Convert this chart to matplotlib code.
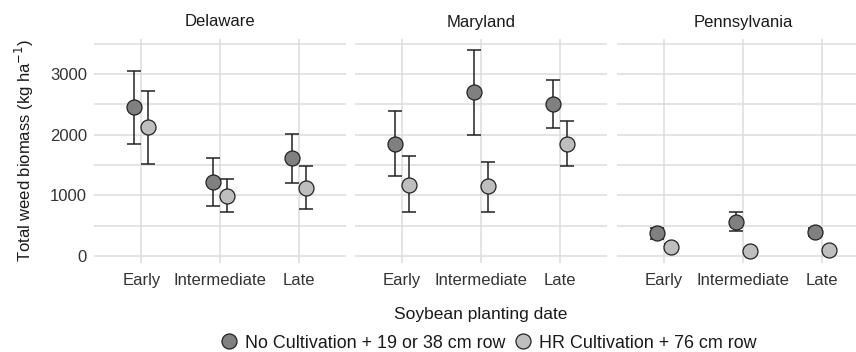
import numpy as np
import matplotlib
matplotlib.use("Agg")
import matplotlib.pyplot as plt
from matplotlib.lines import Line2D

plt.rcParams['font.family'] = ['Liberation Sans', 'DejaVu Sans']

states = ['Delaware', 'Maryland', 'Pennsylvania']
dates = ['Early', 'Intermediate', 'Late']
series = ['No Cultivation + 19 or 38 cm row', 'HR Cultivation + 76 cm row']

# mean, lower, upper per state (rows: Early, Intermediate, Late)
nocult_mean = {'Delaware': [2460, 1225, 1620],
               'Maryland': [1850, 2700, 2505],
               'Pennsylvania': [379, 562, 397]}
nocult_low = {'Delaware': [1846, 819, 1198],
              'Maryland': [1319, 1995, 2115],
              'Pennsylvania': [275, 407, 330]}
nocult_high = {'Delaware': [3049, 1621, 2016],
               'Maryland': [2390, 3396, 2901],
               'Pennsylvania': [470, 725, 460]}
hr_mean = {'Delaware': [2132, 989, 1126],
           'Maryland': [1176, 1154, 1851],
           'Pennsylvania': [152, 77, 99]}
hr_low = {'Delaware': [1522, 731, 775],
          'Maryland': [731, 731, 1478],
          'Pennsylvania': [110, 40, 60]}
hr_high = {'Delaware': [2720, 1264, 1478],
           'Maryland': [1643, 1544, 2225],
           'Pennsylvania': [200, 120, 140]}

colors = ['#808080', '#bebebe']
grid_col = '#dcdcdc'
text_col = '#333333'

W, H = 856, 352
fig = plt.figure(figsize=(W / 100, H / 100), dpi=100)

panel_left = [94, 355, 617]
panel_w = 252
top_px, bot_px = 39, 263

x = np.arange(1, 4)
offset = 0.09

for i, st in enumerate(states):
    ax = fig.add_axes([panel_left[i] / W, 1 - bot_px / H, panel_w / W, (bot_px - top_px) / H])
    ax.set_xlim(0.4, 3.6)
    ax.set_ylim(-115, 3577)
    for s in ax.spines.values():
        s.set_visible(False)
    for yv in np.arange(0, 3501, 500):
        ax.axhline(yv, color=grid_col, lw=1.1, zorder=0)
    for xv in x:
        ax.axvline(xv, color=grid_col, lw=1.1, zorder=0)

    groups = [(nocult_mean, nocult_low, nocult_high, -offset),
              (hr_mean, hr_low, hr_high, offset)]
    for k, (m, lo, hi, off) in enumerate(groups):
        mv = np.array(m[st])
        err = [mv - np.array(lo[st]), np.array(hi[st]) - mv]
        ax.errorbar(x + off, mv, yerr=err, fmt='none', ecolor='#222222',
                    elinewidth=1.1, capsize=5, capthick=1.1, zorder=2)
        ax.plot(x + off, mv, 'o', ms=10.8, mfc=colors[k], mec='#222222',
                mew=0.9, zorder=3)

    ax.set_xticks(x)
    ax.set_xticklabels(dates)
    ax.set_yticks([0, 1000, 2000, 3000])
    ax.tick_params(length=0, labelsize=12, labelcolor=text_col)
    ax.tick_params(axis='x', pad=7)
    ax.tick_params(axis='y', pad=5)
    if i > 0:
        ax.set_yticklabels([])
    ax.set_title(st, fontsize=12, color='#1a1a1a', pad=9)

fig.text(24 / W, 1 - 150 / H, 'Total weed biomass (kg ha$^{-1}$)', rotation=90,
         ha='center', va='center', fontsize=12, color='#1a1a1a')
fig.text(481 / W, 1 - 315 / H, 'Soybean planting date', ha='center', va='center',
         fontsize=12.5, color='#1a1a1a')

handles = [Line2D([], [], ls='none', marker='o', ms=10.8, mfc=c, mec='#222222', mew=0.9)
           for c in colors]
fig.legend(handles, series, loc='center', bbox_to_anchor=(489 / W, 1 - 343 / H),
           ncol=2, frameon=False, fontsize=12.9, handletextpad=0.49,
           columnspacing=0.58, handlelength=0.8, labelcolor='#1a1a1a',
           borderpad=0, borderaxespad=0)

fig.savefig('out.png', dpi=100)
